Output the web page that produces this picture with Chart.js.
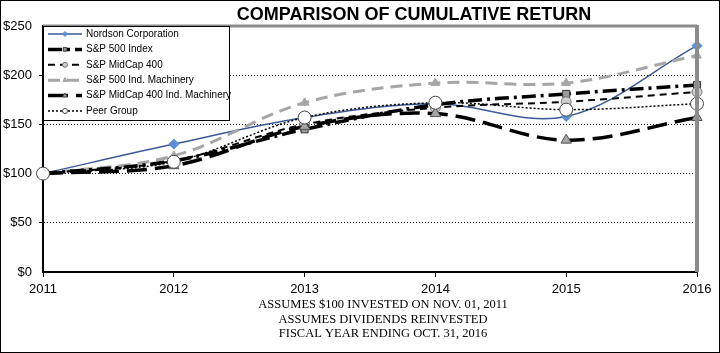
<!DOCTYPE html>
<html lang="en">
<head>
    <meta charset="UTF-8">
    <title>Comparison of Cumulative Return</title>
    <script src="https://cdn.jsdelivr.net/npm/chart.js@4.4.0/dist/chart.umd.min.js"></script>
    <style>
        html, body { margin: 0; padding: 0; background: #fff; }
        #wrap { width: 720px; height: 353px; position: relative; }
        canvas { display: block; }
    </style>
</head>
<body>
<div id="wrap">
    <canvas id="returnChart" width="720" height="353"></canvas>
</div>
<script>
// data
const years = ['2011', '2012', '2013', '2014', '2015', '2016'];
const nordson = [100, 130, 157, 171, 158, 230];
const sp500 = [100, 113, 145, 170, 181, 190];
const midcap400 = [100, 113, 150, 167, 173, 183];
const sp500Mach = [100, 118, 172, 192, 192, 220];
const midcap400Mach = [100, 108, 148, 161, 134, 157];
const peerGroup = [100, 112, 157, 172, 165, 171];
const yTicks = [0, 50, 100, 150, 200, 250];
const titleText = 'COMPARISON OF CUMULATIVE RETURN';
const footLines = [
    'ASSUMES $100 INVESTED ON NOV. 01, 2011',
    'ASSUMES DIVIDENDS REINVESTED',
    'FISCAL YEAR ENDING OCT. 31, 2016'
];

const sans = "'Liberation Sans', Arial, sans-serif";
const serif = "'Liberation Serif', 'Times New Roman', serif";

function series(label, data, o) {
    return Object.assign({
        label: label,
        data: data,
        fill: false,
        tension: 0.35,
        pointBorderWidth: 1
    }, o);
}

const datasets = [
    series('Nordson Corporation', nordson, {
        borderColor: '#3b5998', borderWidth: 1.5,
        pointStyle: 'rectRot', pointRadius: 5,
        pointBackgroundColor: '#5b8fd8', pointBorderColor: '#5b8fd8', order: 6
    }),
    series('S&P 500 Index', sp500, {
        borderColor: '#000', borderWidth: 3.5, borderDash: [14, 5, 3, 5],
        pointStyle: 'rect', pointRadius: 5,
        pointBackgroundColor: '#999', pointBorderColor: '#333', order: 4
    }),
    series('S&P MidCap 400', midcap400, {
        borderColor: '#000', borderWidth: 2, borderDash: [7, 5],
        pointStyle: 'circle', pointRadius: 5,
        pointBackgroundColor: '#cfcfcf', pointBorderColor: '#777', order: 3
    }),
    series('S&P 500 Ind. Machinery', sp500Mach, {
        borderColor: '#a6a6a6', borderWidth: 3, borderDash: [12, 7],
        pointStyle: 'triangle', pointRadius: 5,
        pointBackgroundColor: '#a6a6a6', pointBorderColor: '#a6a6a6', order: 5
    }),
    series('S&P MidCap 400 Ind. Machinery', midcap400Mach, {
        borderColor: '#000', borderWidth: 3.5, borderDash: [20, 8],
        pointStyle: 'triangle', pointRadius: 6,
        pointBackgroundColor: '#a6a6a6', pointBorderColor: '#555', order: 2
    }),
    series('Peer Group', peerGroup, {
        borderColor: '#000', borderWidth: 1.5, borderDash: [2, 2],
        pointStyle: 'circle', pointRadius: 6.5,
        pointBackgroundColor: '#fff', pointBorderColor: '#444', order: 0
    })
];

// title, footnote, frame and in-plot legend
const decor = {
    id: 'decor',
    afterDatasetsDraw(chart) {
        const ctx = chart.ctx;
        const a = chart.chartArea;
        ctx.save();
        // grey frame top / right
        ctx.strokeStyle = '#8c8c8c';
        ctx.lineWidth = 3;
        ctx.beginPath();
        ctx.moveTo(a.left, a.top);
        ctx.lineTo(a.right, a.top);
        ctx.stroke();
        ctx.lineWidth = 4;
        ctx.beginPath();
        ctx.moveTo(a.right, a.top - 1);
        ctx.lineTo(a.right, a.bottom);
        ctx.stroke();

        // legend box
        const lx = a.left, ly = a.top, lw = 186, lh = 94;
        ctx.fillStyle = '#fff';
        ctx.fillRect(lx, ly, lw, lh);
        ctx.strokeStyle = '#000';
        ctx.lineWidth = 1;
        ctx.strokeRect(lx + 0.5, ly + 0.5, lw, lh);
        ctx.font = '10px ' + sans;
        ctx.textBaseline = 'middle';
        ctx.textAlign = 'left';
        datasets.forEach((ds, i) => {
            const y = ly + 8 + i * 15.4;
            ctx.save();
            ctx.strokeStyle = ds.borderColor;
            ctx.lineWidth = ds.borderWidth;
            ctx.setLineDash(ds.borderDash || []);
            ctx.beginPath();
            ctx.moveTo(lx + 5, y);
            ctx.lineTo(lx + 39, y);
            ctx.stroke();
            ctx.restore();
            ctx.save();
            ctx.fillStyle = ds.pointBackgroundColor;
            ctx.strokeStyle = ds.pointBorderColor;
            ctx.lineWidth = 1;
            Chart.helpers.drawPoint(ctx, {pointStyle: ds.pointStyle, radius: 2.5, rotation: 0, borderWidth: 1}, lx + 22, y);
            ctx.restore();
            ctx.fillStyle = '#000';
            ctx.fillText(ds.label, lx + 43, y);
        });

        // title
        ctx.fillStyle = '#000';
        ctx.font = 'bold 18px ' + sans;
        ctx.textAlign = 'center';
        ctx.textBaseline = 'alphabetic';
        ctx.fillText(titleText, 414, 20);

        // footnote
        ctx.font = '12.5px ' + serif;
        footLines.forEach((t, i) => ctx.fillText(t, 383, 308 + i * 14.5));
        ctx.restore();
    }
};

new Chart(document.getElementById('returnChart'), {
    type: 'line',
    data: { labels: years, datasets: datasets },
    options: {
        responsive: false,
        animation: false,
        layout: { padding: { top: 26, right: 23, left: 0, bottom: 0 } },
        plugins: { legend: { display: false }, title: { display: false }, tooltip: { enabled: false } },
        scales: {
            x: {
                type: 'category',
                offset: false,
                grid: { drawOnChartArea: false, drawTicks: true, tickLength: 5, color: '#000' },
                border: { color: '#000', width: 2 },
                ticks: { color: '#000', font: { family: sans, size: 13 }, padding: 5, maxRotation: 0 },
                afterFit(s) { s.height = 81; }
            },
            y: {
                min: 0, max: 250,
                afterBuildTicks(s) { s.ticks = yTicks.map(v => ({ value: v })); },
                grid: {
                    color: c => (c.tick && (c.tick.value === 0 || c.tick.value === 250)) ? 'rgba(0,0,0,0)' : '#000',
                    lineWidth: 1, drawTicks: true, tickLength: 4
                },
                border: { color: '#000', width: 2, dash: [1, 2] },
                ticks: {
                    color: '#000', font: { family: sans, size: 13 }, padding: 7,
                    callback: v => '$' + v
                },
                afterFit(s) { s.width = 43; }
            }
        }
    },
    plugins: [decor]
});

// outer border like the reference picture
document.getElementById('returnChart').style.outline = '1px solid #000';
document.getElementById('returnChart').style.outlineOffset = '-1px';
</script>
</body>
</html>
